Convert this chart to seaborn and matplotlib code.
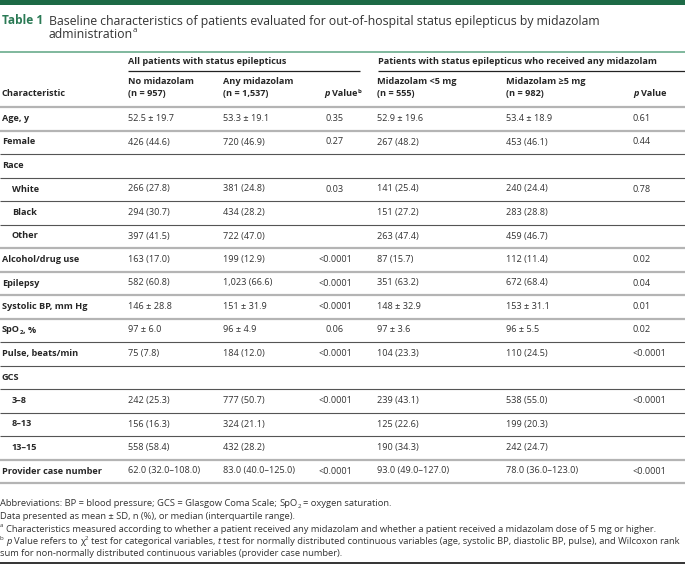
import matplotlib
matplotlib.use("Agg")
import matplotlib.pyplot as plt
import seaborn as sns

sns.set_theme(style="white")
plt.rcParams['font.family'] = ['Open Sans', 'DejaVu Sans']

# ---- table content ----
title_label = "Table 1"
title_lines = ["Baseline characteristics of patients evaluated for out-of-hospital status epilepticus by midazolam",
               "administration"]
group_headers = ["All patients with status epilepticus",
                 "Patients with status epilepticus who received any midazolam"]
col_headers = [("No midazolam", "(n = 957)"), ("Any midazolam", "(n = 1,537)"),
               ("Midazolam <5 mg", "(n = 555)"), ("Midazolam \u22655 mg", "(n = 982)")]

characteristic = ["Age, y", "Female", "Race", "White", "Black", "Other", "Alcohol/drug use", "Epilepsy",
                  "Systolic BP, mm Hg", "SpO2, %", "Pulse, beats/min", "GCS", "3\u20138", "8\u201313", "13\u201315",
                  "Provider case number"]
indented = [False, False, False, True, True, True, False, False, False, False, False, False, True, True, True, False]
no_midazolam = ["52.5 \u00b1 19.7", "426 (44.6)", "", "266 (27.8)", "294 (30.7)", "397 (41.5)", "163 (17.0)",
                "582 (60.8)", "146 \u00b1 28.8", "97 \u00b1 6.0", "75 (7.8)", "", "242 (25.3)", "156 (16.3)",
                "558 (58.4)", "62.0 (32.0\u2013108.0)"]
any_midazolam = ["53.3 \u00b1 19.1", "720 (46.9)", "", "381 (24.8)", "434 (28.2)", "722 (47.0)", "199 (12.9)",
                 "1,023 (66.6)", "151 \u00b1 31.9", "96 \u00b1 4.9", "184 (12.0)", "", "777 (50.7)", "324 (21.1)",
                 "432 (28.2)", "83.0 (40.0\u2013125.0)"]
p_all = ["0.35", "0.27", "", "0.03", "", "", "<0.0001", "<0.0001", "<0.0001", "0.06", "<0.0001", "",
         "<0.0001", "", "", "<0.0001"]
midazolam_lt5 = ["52.9 \u00b1 19.6", "267 (48.2)", "", "141 (25.4)", "151 (27.2)", "263 (47.4)", "87 (15.7)",
                 "351 (63.2)", "148 \u00b1 32.9", "97 \u00b1 3.6", "104 (23.3)", "", "239 (43.1)", "125 (22.6)",
                 "190 (34.3)", "93.0 (49.0\u2013127.0)"]
midazolam_ge5 = ["53.4 \u00b1 18.9", "453 (46.1)", "", "240 (24.4)", "283 (28.8)", "459 (46.7)", "112 (11.4)",
                 "672 (68.4)", "153 \u00b1 31.1", "96 \u00b1 5.5", "110 (24.5)", "", "538 (55.0)", "199 (20.3)",
                 "242 (24.7)", "78.0 (36.0\u2013123.0)"]
p_dose = ["0.61", "0.44", "", "0.78", "", "", "0.02", "0.04", "0.01", "0.02", "<0.0001", "", "<0.0001", "",
          "", "<0.0001"]

footnotes = ["Abbreviations: BP = blood pressure; GCS = Glasgow Coma Scale; SpO2 = oxygen saturation.",
             "Data presented as mean \u00b1 SD, n (%), or median (interquartile range).",
             "a Characteristics measured according to whether a patient received any midazolam and whether a "
             "patient received a midazolam dose of 5 mg or higher.",
             "b p Value refers to \u03c72 test for categorical variables, t test for normally distributed continuous "
             "variables (age, systolic BP, diastolic BP, pulse), and Wilcoxon rank",
             "sum for non-normally distributed continuous variables (provider case number)."]

# ---- style ----
GREEN = '#2b7a55'
DARK_GREEN = '#1d6a46'
TEXT = '#333333'
HEAD = '#262626'
BODY = 6.6
FOOT = 6.75

fig = plt.figure(figsize=(6.85, 5.64), dpi=100)
ax = fig.add_axes([0, 0, 1, 1])
ax.set_xlim(0, 685)
ax.set_ylim(564, 0)
ax.axis('off')
renderer = fig.canvas.get_renderer()


def text_width(s, props):
    # measure with sentinels so leading / trailing spaces count
    t1 = ax.text(0, 0, '|' + s + '|', **props)
    t2 = ax.text(0, 0, '||', **props)
    w = t1.get_window_extent(renderer).width - t2.get_window_extent(renderer).width
    t1.remove()
    t2.remove()
    return w


def runs(x, y, parts, ha='left', **common):
    # draw a sequence of text pieces side by side (for super/subscripts and mixed styles)
    widths = []
    for s, kw in parts:
        kw = {k: v for k, v in kw.items() if k != 'dy'}
        widths.append(text_width(s, {**common, **kw}))
    total = sum(widths)
    cx = x - total if ha == 'right' else x - total / 2 if ha == 'center' else x
    for (s, kw), w in zip(parts, widths):
        kw = dict(kw)
        dy = kw.pop('dy', 0)
        if s.strip():
            lead = text_width(s[:len(s) - len(s.lstrip())], {**common, **kw}) if s[0] == ' ' else 0
            ax.text(cx + lead, y + dy, s.strip(), ha='left', va='center', **{**common, **kw})
        cx += w


def sup(s, size, bold=False):
    return (s, dict(fontsize=size * 0.65, dy=-size * 0.45, fontweight='bold' if bold else 'normal'))


def sub(s, size, bold=False):
    return (s, dict(fontsize=size * 0.65, dy=size * 0.35, fontweight='bold' if bold else 'normal'))


def with_sub2(label, size, bold=False):
    # turns "SpO2..." text into runs with a lowered 2
    w = 'bold' if bold else 'normal'
    head, tail = label.split('2', 1)
    return [(head, dict(fontweight=w)), sub('2', size, bold), (tail, dict(fontweight=w))]


# top band and title
ax.axhspan(0, 4.5, color=DARK_GREEN, lw=0)
ax.text(2, 21, title_label, fontsize=8.6, fontweight='bold', color=GREEN, va='center')
ax.text(49, 21, title_lines[0], fontsize=8.85, color=TEXT, va='center')
runs(49, 34, [(title_lines[1], dict(fontsize=8.85)), sup('a', 8.85)], color=TEXT)
ax.hlines(51.5, 0, 685, color='#6aab8c', lw=1.2)

# headers
x_char, x_c1, x_c2, x_p1, x_c3, x_c4, x_p2 = 2, 128, 223, 335, 377, 506, 633
ax.text(x_c1, 62, group_headers[0], fontsize=BODY, fontweight='bold', color=HEAD, va='center')
ax.text(x_c3 + 1, 62, group_headers[1], fontsize=BODY, fontweight='bold', color=HEAD, va='center')
ax.hlines(71, x_c1, 360, color='#222222', lw=0.9)
ax.hlines(71, x_c3 + 1, 685, color='#222222', lw=0.9)
for x, (l1, l2) in zip([x_c1, x_c2, x_c3, x_c4], col_headers):
    ax.text(x, 82, l1, fontsize=BODY, fontweight='bold', color=HEAD, va='center')
    ax.text(x, 94, l2, fontsize=BODY, fontweight='bold', color=HEAD, va='center')
ax.text(x_char, 94, "Characteristic", fontsize=BODY, fontweight='bold', color=HEAD, va='center')
runs(361, 94, [("p", dict(fontstyle='italic', fontweight='bold')), (" Value", dict(fontweight='bold')),
               sup('b', BODY, True)], ha='right', fontsize=BODY, color=HEAD)
runs(x_p2, 94, [("p", dict(fontstyle='italic', fontweight='bold')), (" Value", dict(fontweight='bold'))],
     fontsize=BODY, color=HEAD)

# separators: light thick grey or thin dark
row_step = 23.5
sep_dark = [False, False, True, True, True, True, False, False, False, False, True, True, True, True, True,
            False, False]
for i, dark in enumerate(sep_dark):
    y = 107 + i * row_step
    if dark:
        ax.hlines(y, 0, 685, color='#555555', lw=0.8)
    else:
        ax.hlines(y, 0, 685, color='#b4b4b4', lw=1.6)

# body rows
for i, label in enumerate(characteristic):
    y = 118.5 + i * row_step
    x = x_char + (10 if indented[i] else 0)
    if label.startswith('SpO2'):
        runs(x, y, with_sub2(label, BODY, True), fontsize=BODY, color=HEAD)
    else:
        ax.text(x, y, label, fontsize=BODY, fontweight='bold', color=HEAD, va='center')
    for xc, col in zip([x_c1, x_c2, x_c3, x_c4], [no_midazolam, any_midazolam, midazolam_lt5, midazolam_ge5]):
        ax.text(xc, y, col[i], fontsize=BODY, color=TEXT, va='center')
    ax.text(x_p1, y, p_all[i], fontsize=BODY, color=TEXT, va='center', ha='center')
    ax.text(x_p2, y, p_dose[i], fontsize=BODY, color=TEXT, va='center')

# footnotes
fy = [504, 516.5, 529, 541.5, 554]
abbr_head, abbr_tail = footnotes[0].split('SpO2', 1)
runs(0, fy[0], [(abbr_head, {})] + with_sub2('SpO2' + abbr_tail, FOOT), fontsize=FOOT, color=TEXT)
ax.text(0, fy[1], footnotes[1], fontsize=FOOT, color=TEXT, va='center')
runs(0, fy[2], [sup('a', FOOT), (footnotes[2][1:], {})], fontsize=FOOT, color=TEXT)
b_text = footnotes[3][2:]
chi_head, chi_tail = b_text.split('\u03c72', 1)
t_head, t_tail = chi_tail.split(' t test', 1)
runs(0, fy[3], [sup('b', FOOT), (" ", {}), ("p", dict(fontstyle='italic')), (chi_head[1:], {}),
                ("\u03c7", {}), sup('2', FOOT), (t_head + " ", {}), ("t", dict(fontstyle='italic')),
                (" test" + t_tail, {})], fontsize=FOOT, color=TEXT)
ax.text(0, fy[4], footnotes[4], fontsize=FOOT, color=TEXT, va='center')
ax.hlines(563, 0, 685, color='#111111', lw=1.2)

fig.savefig('out.png', dpi=100)
